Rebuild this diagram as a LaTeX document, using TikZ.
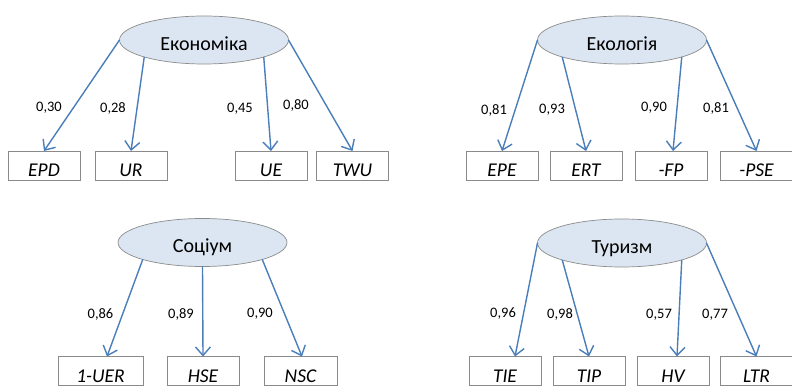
\documentclass[tikz,border=0pt]{standalone}
\usepackage{fontspec}
\setmainfont{Carlito}
\usepackage{tikz}
\usepackage{xcolor}
\usetikzlibrary{arrows.meta, shapes.geometric}
\definecolor{ovalfill}{HTML}{DCE6F2}
\definecolor{ovaldraw}{HTML}{8C8C8C}
\definecolor{boxdraw}{HTML}{8A8A8A}
\definecolor{arrowblue}{HTML}{4A7EBB}

\begin{document}
\begin{tikzpicture}[x=1pt, y=-1pt,
            latent/.style={ellipse, draw=ovaldraw, fill=ovalfill, line width=0.7pt, minimum width=169pt, minimum height=48pt, inner sep=0pt, outer sep=0pt, text height=21pt, text depth=0pt, font=\fontsize{20}{24}\selectfont},
            indic/.style={rectangle, draw=boxdraw, fill=white, line width=0.8pt, minimum width=72pt, minimum height=29pt, inner sep=0pt, outer sep=0pt, text height=22pt, text depth=0pt, font=\fontsize{19.5}{23}\selectfont\itshape},
            coef/.style={inner sep=0pt, font=\fontsize{14.5}{17}\selectfont},
            loading/.style={arrowblue, line width=1.4pt, -{Straight Barb[length=8.5pt, width=15pt, line width=1.4pt]}}]
            \useasboundingbox (0,0) rectangle (792,387);
            \node[latent] (econ) at (204,40) {Економіка};
            \node[indic] (epd) at (44,165.5) {EPD};
            \node[indic] (ur) at (131,165.5) {UR};
            \node[indic] (ue) at (271,165.5) {UE};
            \node[indic] (twu) at (352.5,165.5) {TWU};
            \draw[loading] (econ.west) -- (epd.north);
            \draw[loading] (econ.south west) -- (ur.north);
            \draw[loading] (econ.south east) -- (ue.north);
            \draw[loading] (econ.east) -- (twu.north);
            \node[coef] (c-epd) at (49,108) {0,30};
            \node[coef] (c-ur) at (113,108) {0,28};
            \node[coef] (c-ue) at (240,109) {0,45};
            \node[coef] (c-twu) at (296,105) {0,80};

            \node[latent] (ecol) at (622,40) {Екологія};
            \node[indic] (epe) at (502,165.5) {EPE};
            \node[indic] (ert) at (586,165.5) {ERT};
            \node[indic] (fp) at (671,165.5) {-FP};
            \node[indic] (pse) at (756.5,165.5) {-PSE};
            \draw[loading] (ecol.west) -- (epe.north);
            \draw[loading] (ecol.south west) -- (ert.north);
            \draw[loading] (ecol.south east) -- ([xshift=2pt]fp.north);
            \draw[loading] (ecol.east) -- (pse.north);
            \node[coef] (c-epe) at (494,110) {0,81};
            \node[coef] (c-ert) at (552,110) {0,93};
            \node[coef] (c-fp) at (654,108) {0,90};
            \node[coef] (c-pse) at (716,108) {0,81};

            \node[latent] (soc) at (202.5,242.5) {Соціум};
            \node[indic, minimum width=85pt] (uer) at (100.5,371) {1-UER};
            \node[indic] (hse) at (203,371) {HSE};
            \node[indic, minimum width=73pt] (nsc) at (300.5,371) {NSC};
            \draw[loading] (soc.south west) -- ([xshift=6.5pt]uer.north);
            \draw[loading] (soc.south) -- (hse.north);
            \draw[loading] (soc.south east) -- ([xshift=1.5pt]nsc.north);
            \node[coef] (c-uer) at (100.5,314) {0,86};
            \node[coef] (c-hse) at (181,314) {0,89};
            \node[coef] (c-nsc) at (260,314) {0,90};

            \node[latent] (tour) at (622,243) {Туризм};
            \node[indic] (tie) at (505,371) {TIE};
            \node[indic] (tip) at (589,371) {TIP};
            \node[indic] (hv) at (673,371) {HV};
            \node[indic] (ltr) at (756.5,371) {LTR};
            \draw[loading] (tour.west) -- ([xshift=10pt]tie.north);
            \draw[loading] (tour.south west) -- (tip.north);
            \draw[loading] (tour.south east) -- ([xshift=4pt]hv.north);
            \draw[loading] (tour.east) -- (ltr.north);
            \node[coef] (c-tie) at (503,314) {0,96};
            \node[coef] (c-tip) at (560,314) {0,98};
            \node[coef] (c-hv) at (659,315) {0,57};
            \node[coef] (c-ltr) at (715,315) {0,77};
        \end{tikzpicture}
\end{document}
